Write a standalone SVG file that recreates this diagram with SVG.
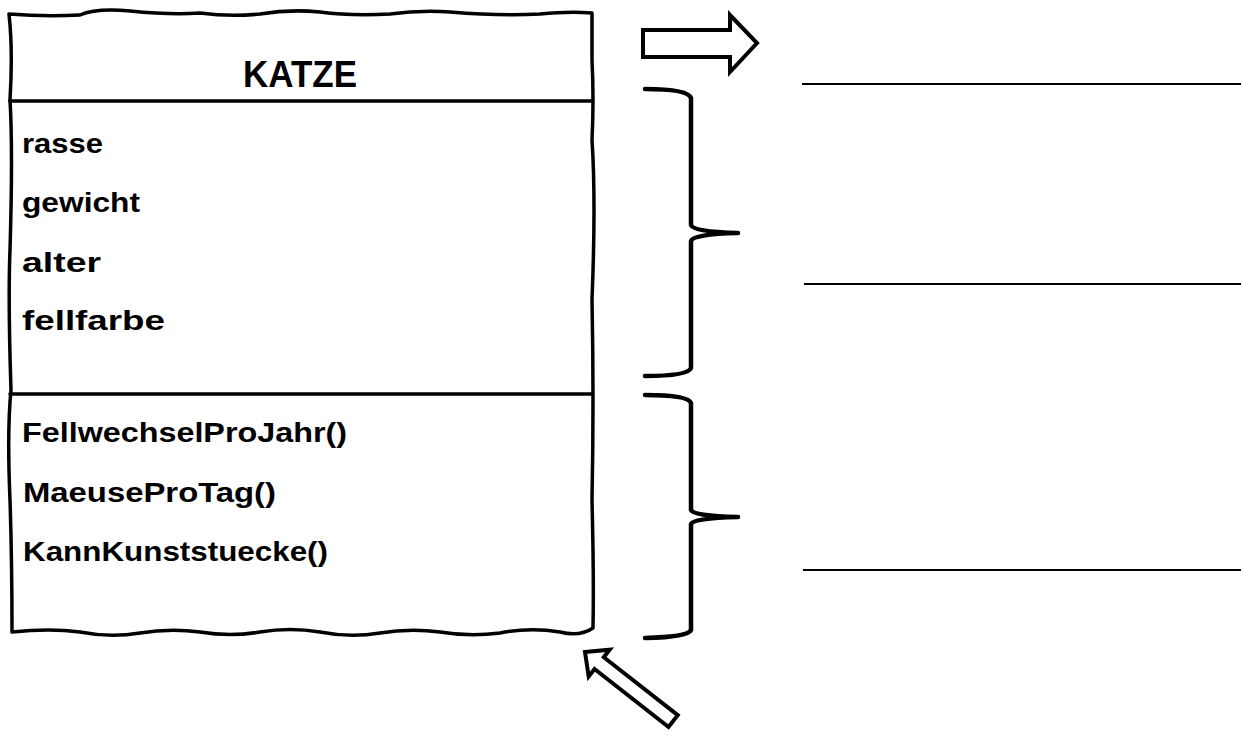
<svg xmlns="http://www.w3.org/2000/svg" width="1243" height="749" viewBox="0 0 1243 749">
<style>
.ink{fill:none;stroke:#000;stroke-linecap:round;stroke-linejoin:round}
.box{stroke-width:3.5}
.brace{stroke-width:4.5}
.rule{stroke:#000;stroke-width:2}
.arrow{fill:#fff;stroke:#000;stroke-width:4;stroke-linejoin:miter}
.t{font-family:"Liberation Sans","Open Sans",sans-serif;font-weight:bold;fill:#000}
.item{font-size:28px}
.title{font-size:37px}
</style>
<rect width="1243" height="749" fill="#fff"/>
<g id="katze">
<path class="ink box" d="M9,14 Q45,17 80,15 Q96,8 130,11 Q170,15 200,13 Q230,17 260,14 Q290,9 320,12 Q350,16 390,14 Q420,10 450,12 Q500,16 540,14 Q570,11 592,13 L592,60 Q594,100 592,140 Q596,200 592,300 Q594,400 592,500 Q594,580 593,628 Q580,637 560,632 Q530,627 500,633 Q470,637 440,632 Q410,628 380,633 Q350,638 320,632 Q290,627 260,632 Q230,637 200,632 Q170,628 140,633 Q110,638 80,632 Q50,628 12,632 Q12,560 10,500 Q7,430 11,390 Q8,300 10,250 Q13,150 10,100 Q13,50 9,14 Z"/>
<line class="ink box" x1="10" y1="101" x2="592" y2="101"/>
<line class="ink box" x1="10" y1="394" x2="592" y2="394"/>
<text class="t title" x="243" y="87" textLength="114" lengthAdjust="spacingAndGlyphs">KATZE</text>
<text class="t item" x="22" y="153" textLength="81" lengthAdjust="spacingAndGlyphs">rasse</text>
<text class="t item" x="22" y="212" textLength="118" lengthAdjust="spacingAndGlyphs">gewicht</text>
<text class="t item" x="22" y="272" textLength="79" lengthAdjust="spacingAndGlyphs">alter</text>
<text class="t item" x="22" y="330" textLength="143" lengthAdjust="spacingAndGlyphs">fellfarbe</text>
<text class="t item" x="22" y="442" textLength="325" lengthAdjust="spacingAndGlyphs">FellwechselProJahr()</text>
<text class="t item" x="23" y="502" textLength="253" lengthAdjust="spacingAndGlyphs">MaeuseProTag()</text>
<text class="t item" x="23" y="561" textLength="305" lengthAdjust="spacingAndGlyphs">KannKunststuecke()</text>
</g>
<g id="brace-attributes">
<path class="ink brace" d="M645,89 Q688,89 691,98 L691,225 Q693,232 738,233 Q693,234 691,241 L691,368 Q688,376 645,376"/>
</g>
<g id="brace-methods">
<path class="ink brace" d="M645,395 Q688,395 691,403 L691,510 Q693,516 738,517 Q693,518 691,524 L691,630 Q688,637 645,638"/>
</g>
<g id="answer-lines">
<line class="rule" x1="802" y1="84" x2="1241" y2="84"/>
<line class="rule" x1="804" y1="284" x2="1241" y2="284"/>
<line class="rule" x1="803" y1="570" x2="1241" y2="570"/>
</g>
<g id="connectors">
<polygon class="arrow" points="643,30 730,30 730,15 757,43 730,72 730,57 643,57"/>
<polygon class="arrow" transform="translate(585,652) rotate(38.1)" points="0,0 18,-17 18,-7.5 112,-7.5 112,7.5 18,7.5 18,17"/>
</g>
</svg>
